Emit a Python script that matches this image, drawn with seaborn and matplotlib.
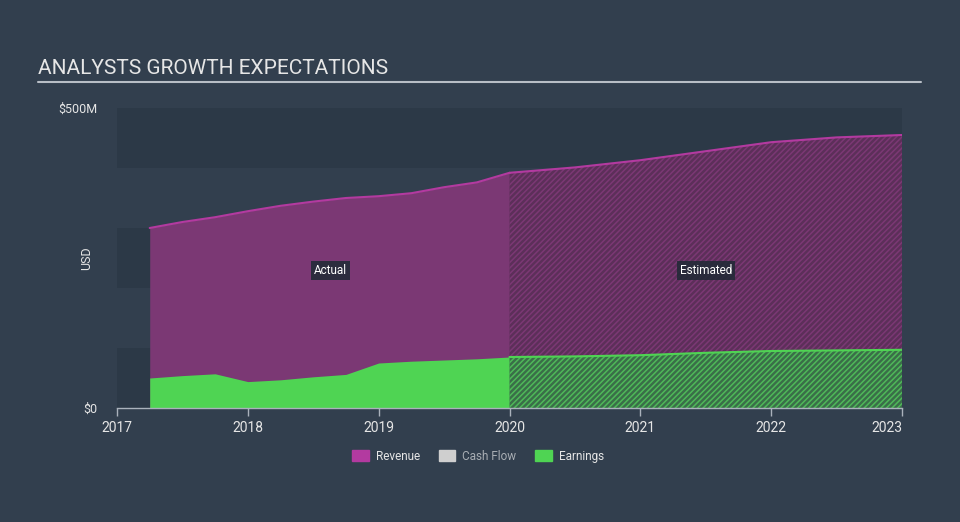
import numpy as np
import pandas as pd
import matplotlib
matplotlib.use("Agg")
import matplotlib.pyplot as plt
import matplotlib.patches as mpatches
import seaborn as sns

# data (values in $M)
actual_years = [2017.25, 2017.5, 2017.75, 2018.0, 2018.25, 2018.5, 2018.75, 2019.0,
                2019.25, 2019.5, 2019.75, 2020.0]
actual_revenue = [300, 310, 318, 328, 337, 344, 350, 353, 358, 368, 376, 392]
actual_earnings = [50, 54, 57, 44, 47, 52, 56, 75, 78, 80, 82, 85]

est_years = [2020.0, 2020.5, 2021.0, 2021.5, 2022.0, 2022.5, 2023.0]
est_revenue = [392, 401, 413, 428, 443, 451, 455]
est_earnings = [85, 86, 88, 92, 95, 96, 97]

year_ticks = [2017, 2018, 2019, 2020, 2021, 2022, 2023]
legend_labels = ["Revenue", "Cash Flow", "Earnings"]

BG = "#323f4e"
BAND_DARK = "#2c3947"
REV_LINE = "#b33aa0"
REV_FILL = "#7b3874"
REV_HATCH_BG = "#5c2f59"
EARN = "#4fd453"
EARN_HATCH_BG = "#3a6e48"
TEXT = "#e6e6e6"
AXIS = "#aab2bc"

sns.set_style("dark")
plt.rcParams["font.family"] = ["Roboto", "DejaVu Sans"]
plt.rcParams["hatch.linewidth"] = 1.1

fig = plt.figure(figsize=(9.6, 5.22), dpi=100, facecolor=BG)
ax = fig.add_axes([117 / 960, 1 - 408 / 522, 785 / 960, 300 / 522])
ax.set_facecolor(BG)

# alternating bands
for i, lo in enumerate(range(0, 500, 100)):
    if i % 2 == 0:
        ax.axhspan(lo, lo + 100, color=BAND_DARK, lw=0, zorder=0)

df_a = pd.DataFrame({"year": actual_years, "revenue": actual_revenue, "earnings": actual_earnings})
df_e = pd.DataFrame({"year": est_years, "revenue": est_revenue, "earnings": est_earnings})

# actual areas
ax.fill_between(df_a["year"], 0, df_a["revenue"], color=REV_FILL, lw=0, zorder=2)
ax.fill_between(df_a["year"], 0, df_a["earnings"], color=EARN, lw=0, zorder=3)

# estimated areas (hatched)
ax.fill_between(df_e["year"], 0, df_e["revenue"], facecolor=REV_HATCH_BG,
                edgecolor=REV_FILL, hatch="//////", lw=0, zorder=2)
ax.fill_between(df_e["year"], 0, df_e["earnings"], facecolor=EARN_HATCH_BG,
                edgecolor="#4fb859", hatch="//////", lw=0, zorder=3)

# top lines
sns.lineplot(data=df_a, x="year", y="revenue", color=REV_LINE, lw=1.5, ax=ax, zorder=4)
sns.lineplot(data=df_e, x="year", y="revenue", color=REV_LINE, lw=1.5, ax=ax, zorder=4)
sns.lineplot(data=df_e, x="year", y="earnings", color=EARN, lw=1.5, ax=ax, zorder=4)

ax.set_xlim(2017, 2023)
ax.set_ylim(0, 500)
ax.set_xticks(year_ticks)
ax.set_xticklabels([str(y) for y in year_ticks], color=TEXT, fontsize=10)
ax.get_xticklabels()[-1].set_ha("right")
ax.set_yticks([0, 500])
ax.set_yticklabels(["$0", "$500M"], color=TEXT, fontsize=9)
ax.tick_params(axis="x", length=6, color=AXIS, width=1, pad=3, bottom=True)
ax.tick_params(axis="y", length=0, pad=14)
ax.grid(False)
for s in ["top", "right", "left"]:
    ax.spines[s].set_visible(False)
ax.spines["bottom"].set_color(AXIS)
ax.spines["bottom"].set_linewidth(1)
ax.spines["bottom"].set_zorder(6)
ax.set_xlabel("")
ax.set_ylabel("")
fig.text(87 / 960, 1 - 258 / 522, "USD", color=TEXT, fontsize=9, rotation=90,
         ha="center", va="center")

box = dict(boxstyle="square,pad=0.25", fc="#1f2a35", ec="none", alpha=0.85)
ax.text(2018.63, 229, "Actual", color="white", fontsize=8.5, ha="center", va="center", bbox=box, zorder=7)
ax.text(2021.5, 229, "Estimated", color="white", fontsize=8.5, ha="center", va="center", bbox=box, zorder=7)

# title and rule
fig.text(38 / 960, 1 - 68 / 522, "ANALYSTS GROWTH EXPECTATIONS", color=TEXT,
         fontsize=15, ha="left", va="center")
fig.add_artist(plt.Line2D([38 / 960, 921 / 960], [1 - 82 / 522, 1 - 82 / 522],
                          color="#b8bec6", lw=1.5))

# legend
handles = [mpatches.Patch(color=REV_LINE), mpatches.Patch(color="#cfcfcf"), mpatches.Patch(color=EARN)]
leg = fig.legend(handles, legend_labels, loc="center", bbox_to_anchor=(478 / 960, 1 - 456 / 522),
                 ncol=3, frameon=False, fontsize=8.5, handlelength=1.4, handleheight=1.0,
                 columnspacing=1.6, handletextpad=0.6)
for t, c in zip(leg.get_texts(), [TEXT, "#a9aeb4", TEXT]):
    t.set_color(c)

fig.savefig("out.png", dpi=100, facecolor=BG)
